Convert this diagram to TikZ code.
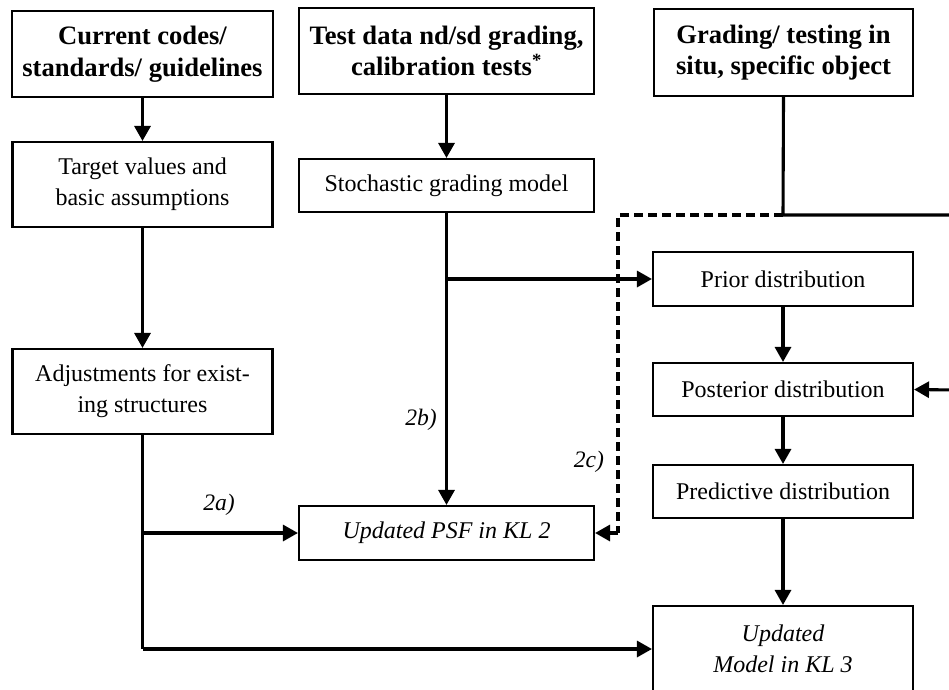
\documentclass[tikz,border=0pt]{standalone}
\usepackage{fontspec}
\setmainfont{Liberation Serif}
\usetikzlibrary{arrows.meta}
\begin{document}
\begin{tikzpicture}[x=1pt,y=-1pt,
  box/.style={draw, line width=2.1pt, rectangle, align=center, inner sep=0pt,
    font=\fontsize{24}{31}\selectfont},
  hbox/.style={box, font=\fontsize{26.6}{31.5}\selectfont\bfseries},
  wbox/.style={box, minimum width=260pt},
  nbox/.style={box, minimum width=295pt},
  conn/.style={line width=3.1pt, line join=miter},
  arr/.style={conn, -{Triangle[length=15pt,width=16pt]}},
  dsh/.style={line width=3.3pt, dash pattern=on 9pt off 5pt},
  lab/.style={font=\fontsize{23.6}{28}\selectfont\itshape, inner sep=0pt}
]
\useasboundingbox (0,0) rectangle (949,689);
% top row
\node[hbox, minimum width=261pt, minimum height=86pt] (codes) at (142.5,54) {Current codes/\\standards/ guidelines};
\node[hbox, minimum width=295pt, minimum height=86pt] (test) at (446.5,51) {Test data nd/sd grading,\\calibration tests\textsuperscript{*}};
\node[hbox, minimum width=259pt, minimum height=87pt] (situ) at (783.5,52.5) {Grading/ testing in\\situ, specific object};
% left column
\node[wbox, minimum height=85pt] (target) at (142.5,184.5) {Target values and\\basic assumptions};
\node[wbox, minimum height=85pt] (adj) at (142.5,391.5) {Adjustments for exist-\\ing structures};
% middle column
\node[nbox, minimum height=53pt] (stoch) at (446.5,185.5) {Stochastic grading model};
\node[nbox, minimum height=54pt] (psf) at (446.5,533) {\itshape Updated PSF in KL 2};
% right column
\node[wbox, minimum height=54pt] (prior) at (783,279) {Prior distribution};
\node[wbox, minimum height=53pt] (post) at (783,389.5) {Posterior distribution};
\node[wbox, minimum height=53pt] (pred) at (783,491.5) {Predictive distribution};
\node[wbox, minimum height=86pt] (model) at (783,649) {\itshape Updated\\\itshape Model in KL 3};
% coordinates
\coordinate (j1) at (783,215);
\coordinate (r1) at (956,215);
\coordinate (r2) at (956,390);
\coordinate (d1) at (618,215);
\coordinate (d2) at (618,533);
\coordinate (s1) at (446.5,279);
\coordinate (a1) at (142.5,533);
\coordinate (a2) at (142.5,649);
% connectors
\draw[arr] (codes) -- (target);
\draw[arr] (target) -- (adj);
\draw[arr] (test) -- (stoch);
\draw[arr] (stoch) -- (psf);
\draw[arr] (s1) -- (prior.west);
\draw[arr] (prior) -- (post);
\draw[arr] (post) -- (pred);
\draw[arr] (pred) -- (model);
\draw[conn] (adj.south) -- (a2);
\draw[arr] (a2) -- (model.west);
\draw[arr] (a1) -- (psf.west);
\draw[dsh] (j1) -- (d1) -- (d2);
\draw[conn] (situ.south) -- (j1) -- (r1) -- (r2);
\draw[arr] (r2) -- (post.east);
\draw[arr] (d2) -- (psf.east);
% labels
\node[lab] (la) at (219,505) {2a)};
\node[lab] (lb) at (421,420) {2b)};
\node[lab] (lc) at (589,462) {2c)};
\end{tikzpicture}
\end{document}
